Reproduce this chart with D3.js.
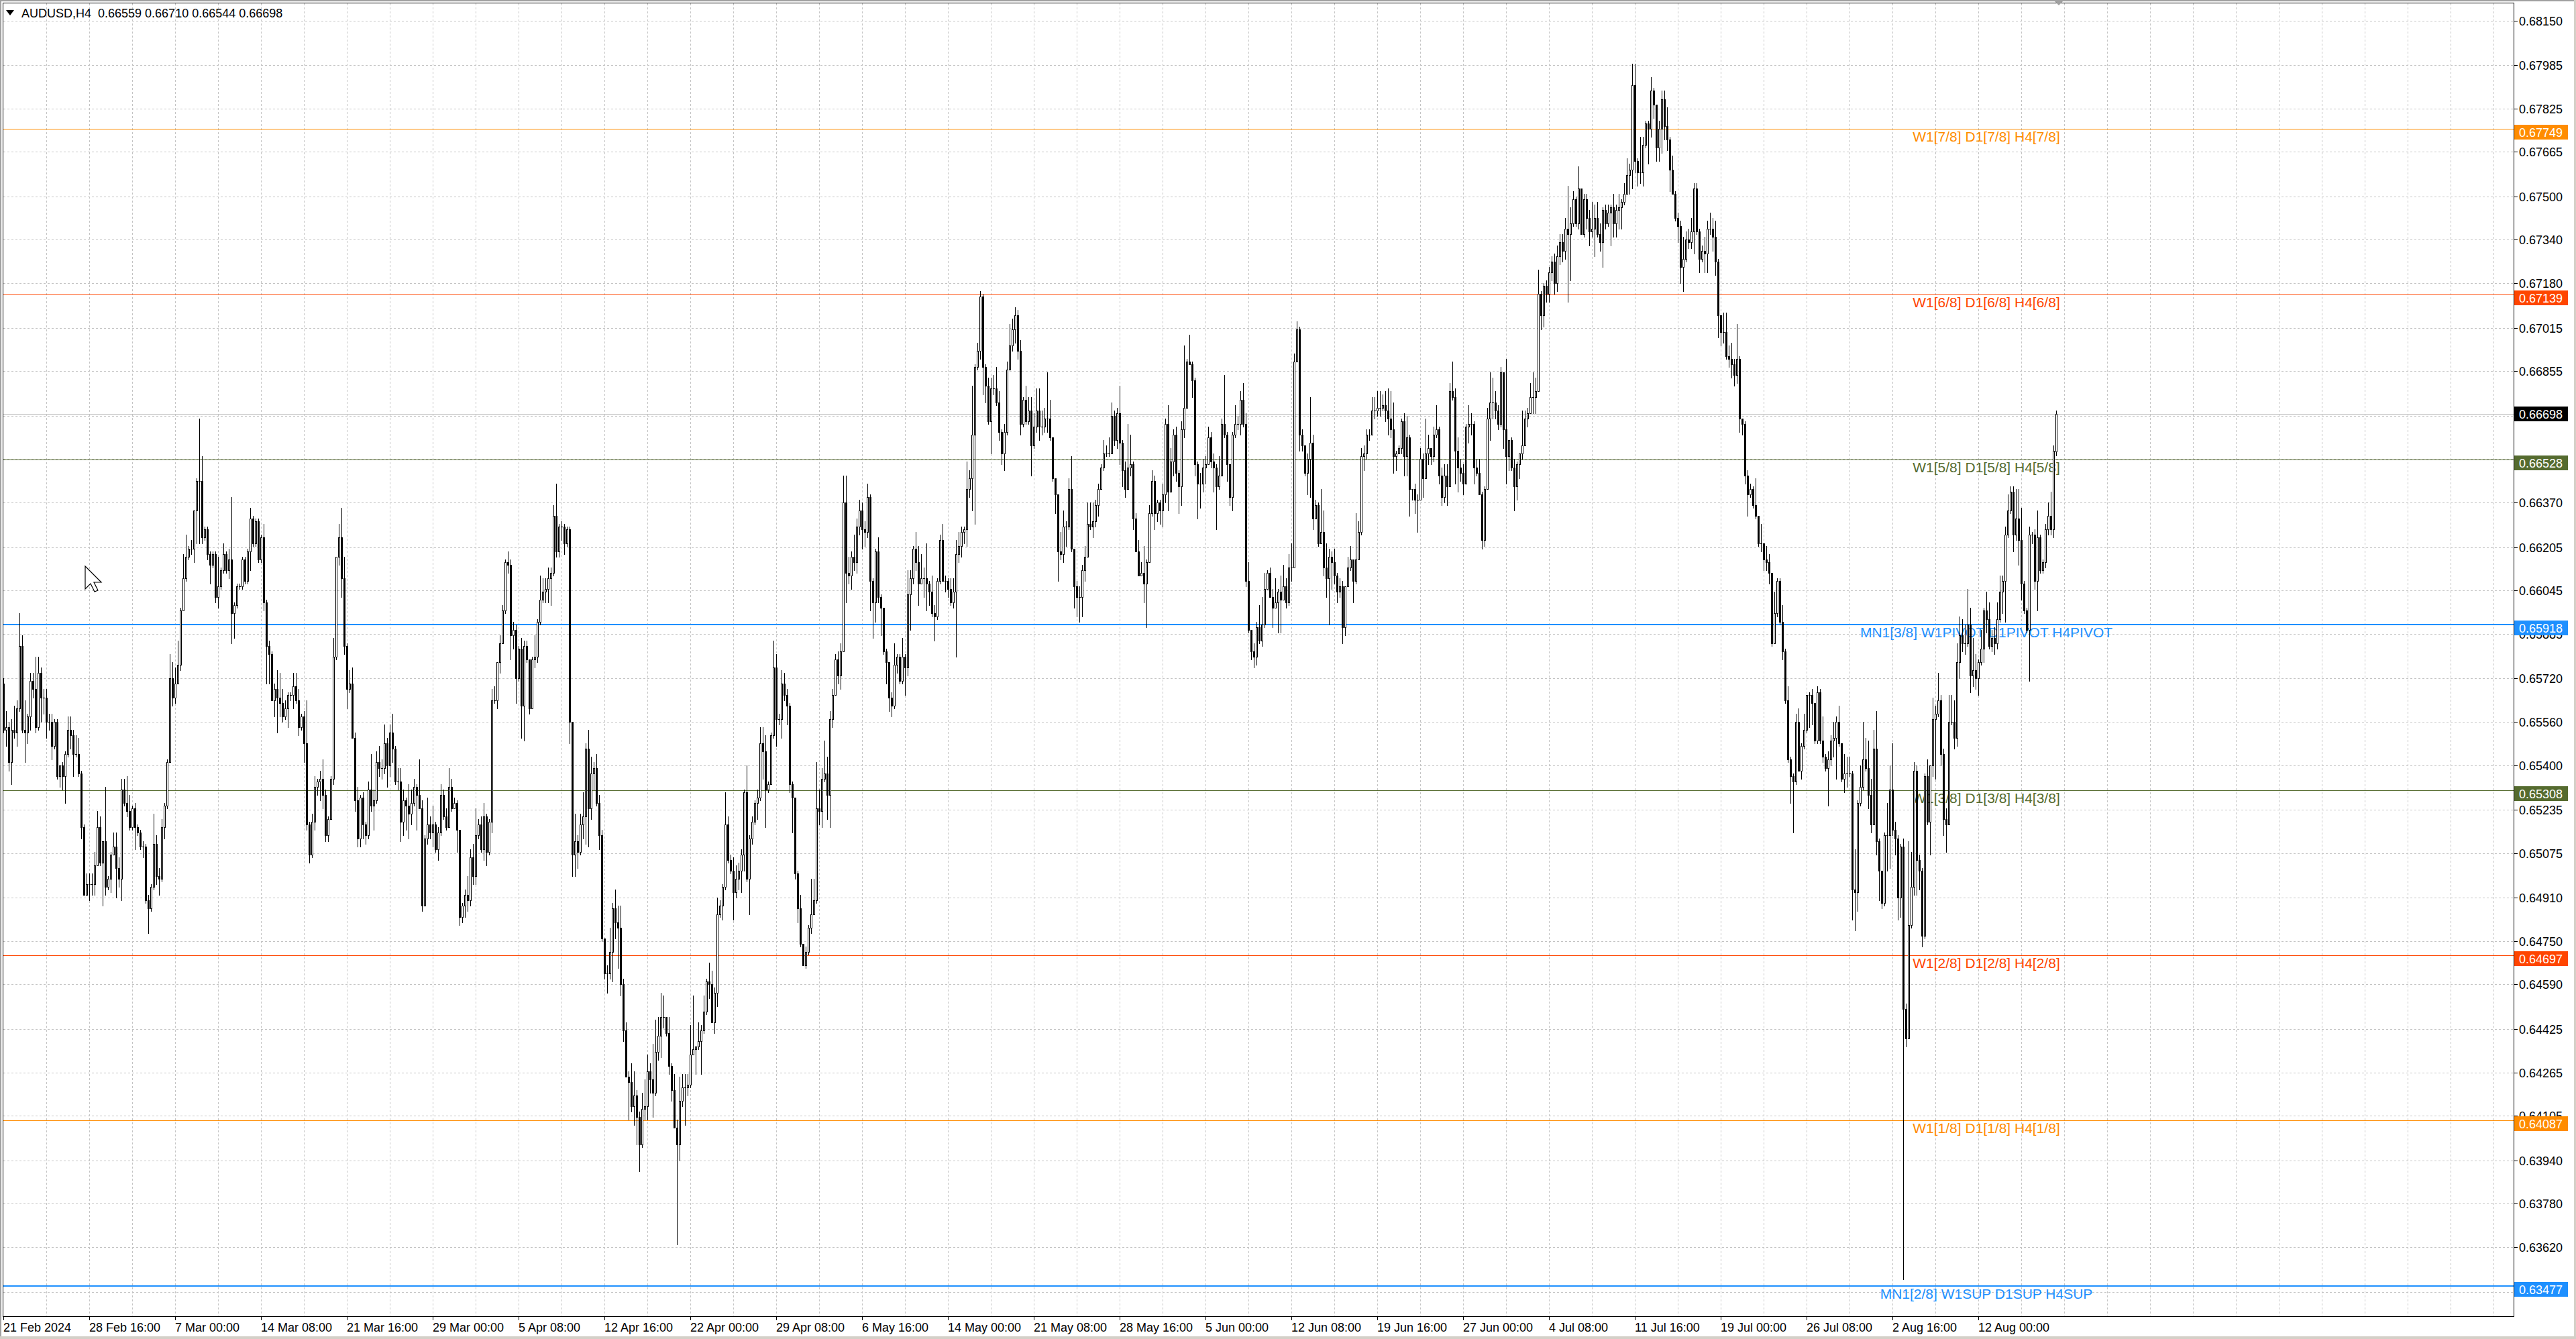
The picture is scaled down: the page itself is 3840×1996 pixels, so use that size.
<!DOCTYPE html>
<html><head><meta charset="utf-8">
<script src="https://cdn.jsdelivr.net/npm/d3@7"></script>
<style>
html,body{margin:0;padding:0;background:#fff;overflow:hidden}
svg{display:block}
text{font-family:"Liberation Sans",Arial,sans-serif}
</style></head><body>
<svg id="c" width="3840" height="1996"></svg>
<script>
// ---------------- DATA ----------------
const symbolTitle = "AUDUSD,H4";
const lastBarOHLC = [0.66559, 0.66710, 0.66544, 0.66698];
const bidPrice = 0.66698;
const dateLabels = ["21 Feb 2024","28 Feb 16:00","7 Mar 00:00","14 Mar 08:00","21 Mar 16:00","29 Mar 00:00",
  "5 Apr 08:00","12 Apr 16:00","22 Apr 00:00","29 Apr 08:00","6 May 16:00","14 May 00:00","21 May 08:00",
  "28 May 16:00","5 Jun 00:00","12 Jun 08:00","19 Jun 16:00","27 Jun 00:00","4 Jul 08:00","11 Jul 16:00",
  "19 Jul 00:00","26 Jul 08:00","2 Aug 16:00","12 Aug 00:00"];
// grid levels of the price scale; labels that the reference hides behind coloured boxes are not printed
const priceGridValues = [0.68150,0.67985,0.67825,0.67665,0.67500,0.67340,0.67180,0.67015,
  0.66855,0.66690,0.66530,0.66370,0.66205,0.66045,0.65885,0.65720,0.65560,0.65400,
  0.65235,0.65075,0.64910,0.64750,0.64590,0.64425,0.64265,0.64105,0.63940,0.63780,
  0.63620,0.63455];
const priceTickLabels = ["0.68150","0.67985","0.67825","0.67665","0.67500","0.67340","0.67180","0.67015",
  "0.66855","0.66370","0.66205","0.66045","0.65885","0.65720","0.65560","0.65400",
  "0.65235","0.65075","0.64910","0.64750","0.64590","0.64425","0.64265","0.64105","0.63940","0.63780",
  "0.63620"];
const levelPrices = [0.67749, 0.67139, 0.66528, 0.65918, 0.65308, 0.64697, 0.64087, 0.63477];
const levelNames = ["W1[7/8] D1[7/8] H4[7/8]","W1[6/8] D1[6/8] H4[6/8]","W1[5/8] D1[5/8] H4[5/8]",
  "MN1[3/8] W1PIVOT D1PIVOT H4PIVOT","W1[3/8] D1[3/8] H4[3/8]","W1[2/8] D1[2/8] H4[2/8]",
  "W1[1/8] D1[1/8] H4[1/8]","MN1[2/8] W1SUP D1SUP H4SUP"];
const levelKinds = ["8th1","8th2","8th3","pivot","8th3","8th2","8th1","pivot"];

// H4 candles, prices in units of 0.0001; open = previous close
const PIP = 0.0001;
const firstOpen = 6570;
const closes = [
6553,6554,6541,6553,6552,6561,6584,6553,6552,6558, 6571,6568,6554,6574,6565,6565,6556,6556,6547,6556,
6536,6540,6536,6544,6553,6551,6544,6544,6537,6517, 6492,6496,6496,6496,6503,6517,6504,6512,6495,6498,
6507,6510,6502,6498,6531,6526,6523,6517,6524,6517, 6515,6510,6510,6490,6487,6495,6511,6499,6498,6517,
6525,6541,6572,6565,6570,6577,6597,6609,6617,6620, 6620,6634,6645,6645,6624,6627,6618,6614,6618,6602,
6606,6612,6618,6612,6616,6596,6599,6606,6606,6616, 6608,6619,6631,6622,6630,6616,6624,6600,6584,6581,
6564,6568,6565,6563,6558,6561,6566,6566,6569,6564, 6554,6558,6548,6518,6507,6519,6532,6534,6535,6529,
6514,6520,6535,6580,6617,6624,6609,6584,6568,6570, 6550,6527,6513,6528,6518,6514,6531,6525,6527,6541,
6539,6539,6548,6540,6552,6546,6534,6534,6519,6527, 6525,6522,6526,6532,6529,6524,6488,6513,6518,6515,
6518,6509,6515,6529,6521,6517,6532,6524,6526,6516, 6484,6488,6492,6490,6506,6499,6514,6518,6509,6521,
6508,6519,6564,6564,6578,6585,6597,6615,6614,6588, 6590,6572,6583,6562,6584,6579,6561,6579,6580,6593,
6601,6604,6605,6609,6611,6632,6619,6628,6628,6622, 6627,6556,6507,6512,6508,6518,6521,6546,6524,6537,
6539,6526,6514,6476,6463,6463,6471,6487,6482,6480, 6459,6442,6425,6423,6414,6418,6410,6400,6413,6414,
6427,6424,6419,6434,6440,6447,6447,6441,6429,6420, 6406,6400,6416,6421,6421,6422,6433,6435,6436,6438,
6442,6449,6460,6459,6445,6456,6485,6488,6495,6518, 6505,6501,6493,6498,6501,6507,6530,6498,6513,6519,
6526,6528,6548,6545,6531,6533,6551,6576,6557,6557, 6570,6566,6562,6533,6528,6500,6487,6474,6466,6471,
6480,6485,6490,6524,6523,6535,6537,6529,6557,6566, 6579,6573,6582,6637,6611,6610,6617,6615,6628,6634,
6627,6626,6639,6608,6600,6619,6602,6598,6582,6578, 6565,6562,6577,6580,6571,6580,6576,6603,6609,6620,
6615,6607,6609,6609,6607,6604,6596,6595,6608,6623, 6608,6608,6605,6600,6604,6618,6621,6626,6627,6642,
6646,6662,6687,6693,6713,6687,6680,6667,6679,6679, 6674,6663,6655,6663,6686,6695,6701,6706,6693,6666,
6675,6667,6671,6658,6665,6671,6665,6665,6668,6668, 6661,6646,6640,6619,6618,6628,6628,6642,6620,6606,
6602,6602,6612,6617,6629,6628,6630,6636,6642,6650, 6655,6655,6655,6669,6660,6670,6659,6649,6642,6650,
6651,6631,6619,6610,6611,6607,6615,6633,6645,6633, 6637,6634,6640,6666,6641,6652,6662,6648,6643,6664,
6672,6689,6688,6682,6651,6644,6644,6650,6651,6661, 6652,6650,6643,6647,6666,6662,6651,6639,6662,6666,
6666,6675,6666,6608,6590,6582,6580,6591,6586,6592, 6605,6611,6602,6598,6600,6604,6601,6606,6600,6613,
6613,6689,6701,6662,6658,6648,6653,6659,6631,6636, 6622,6626,6613,6609,6617,6615,6610,6604,6606,6591,
6606,6613,6616,6608,6616,6626,6654,6655,6662,6662, 6671,6671,6672,6672,6673,6671,6668,6664,6654,6655,
6657,6667,6654,6661,6642,6642,6638,6638,6653,6646, 6655,6657,6654,6662,6664,6647,6639,6647,6643,6678,
6676,6656,6650,6648,6644,6665,6666,6666,6650,6648, 6640,6623,6642,6668,6674,6674,6671,6666,6685,6664,
6654,6660,6650,6643,6651,6655,6658,6668,6670,6676, 6676,6678,6714,6706,6717,6714,6722,6726,6718,6728,
6733,6730,6738,6736,6740,6749,6740,6753,6736,6749, 6742,6737,6738,6742,6736,6733,6745,6740,6744,6746,
6740,6745,6746,6748,6751,6758,6760,6791,6763,6759, 6759,6769,6777,6775,6789,6784,6768,6775,6786,6776,
6771,6760,6751,6742,6739,6724,6727,6734,6733,6737, 6753,6737,6727,6730,6729,6738,6738,6735,6726,6706,
6700,6700,6691,6690,6688,6684,6690,6668,6666,6647, 6640,6642,6636,6632,6622,6622,6616,6615,6611,6585,
6596,6608,6593,6582,6564,6542,6536,6534,6556,6538, 6547,6553,6566,6566,6563,6549,6567,6549,6543,6539,
6542,6549,6550,6556,6548,6535,6537,6537,6537,6494, 6493,6526,6532,6542,6539,6529,6518,6546,6512,6501,
6489,6514,6514,6531,6516,6513,6491,6510,6450,6439, 6481,6495,6538,6505,6501,6477,6536,6519,6540,6557,
6559,6564,6544,6520,6518,6556,6556,6550,6578,6588, 6585,6585,6592,6573,6575,6572,6578,6583,6597,6594,
6584,6587,6585,6594,6604,6608,6625,6634,6641,6625, 6631,6623,6607,6597,6590,6625,6625,6608,6624,6612,
6615,6627,6632,6627,6656,6670];
const upperWicks = [
2,6,2,4,9,3,12,4,11,1, 3,3,12,6,2,3,3,3,3,1, 1,0,1,1,5,5,2,7,6,1, 1,4,4,4,5,6,4,0,20,1,
1,5,5,4,4,4,10,6,1,2, 1,1,2,1,2,1,11,3,3,3, 1,1,9,6,6,9,1,9,8,1, 3,0,1,23,9,1,1,1,1,1,
11,1,4,1,4,23,1,1,1,1, 1,1,4,1,1,1,1,5,1,2, 1,2,7,9,5,3,1,1,5,5, 4,1,2,16,1,3,4,1,3,7,
2,1,1,7,0,5,11,8,1,5, 6,2,5,1,2,1,3,13,4,4, 6,3,7,2,3,7,1,5,5,4, 1,8,5,3,1,13,3,1,10,3,
7,1,2,4,2,3,7,3,2,1, 0,1,2,7,3,5,10,2,3,5, 1,1,4,5,0,3,2,1,4,2, 3,2,1,4,2,2,0,1,8,1,
9,5,4,4,2,4,12,1,2,1, 1,1,0,10,2,4,9,2,7,6, 2,5,3,2,0,3,9,2,7,6, 8,2,3,2,7,9,2,2,6,10,
6,3,13,12,7,9,8,0,6,1, 6,3,9,5,5,4,11,20,0,7, 2,6,1,7,5,2,6,2,1,12, 3,2,5,5,3,2,1,10,1,2,
1,3,6,6,6,1,1,10,5,2, 5,4,2,1,1,0,1,5,0,2, 1,13,8,17,7,4,12,6,3,2, 2,3,3,10,10,6,2,8,3,4,
3,3,5,1,1,1,5,1,0,1, 0,2,8,1,1,7,1,9,3,1, 6,6,9,4,13,1,6,3,1,2, 6,2,1,4,5,5,5,2,1,10,
3,18,1,3,2,1,1,3,4,5, 8,4,1,3,3,8,4,3,2,4, 1,5,5,5,5,8,8,6,4,17, 7,0,0,0,7,6,2,4,12,0,
2,4,2,4,8,8,7,2,2,1, 5,3,6,5,2,2,10,1,3,16, 11,1,2,4,4,10,1,3,4,2, 1,1,4,2,7,5,2,3,1,3,
23,1,10,1,1,1,4,3,3,4, 2,3,1,7,2,18,1,0,1,7, 3,3,6,4,7,0,3,2,8,10, 6,1,2,3,9,1,6,8,3,5,
9,3,3,1,2,0,2,17,3,2, 1,16,8,9,3,2,5,1,3,2, 0,4,5,0,17,4,3,3,2,2, 5,5,6,6,4,5,8,10,10,1,
1,1,3,8,1,0,2,2,4,2, 13,5,0,3,9,1,3,4,4,3, 11,3,5,3,3,1,7,4,1,3, 5,1,1,4,11,9,4,2,2,0,
26,0,1,3,1,0,13,3,2,5, 9,5,9,1,1,2,2,2,3,4, 3,3,4,16,6,3,1,8,0,2, 2,3,10,5,6,4,1,2,3,1,
5,2,5,1,4,6,2,8,8,1, 13,3,1,1,5,1,0,3,3,3, 7,1,5,1,2,2,8,3,4,5, 2,2,1,2,5,3,6,4,6,1,
0,7,7,4,6,2,13,1,0,1, 2,2,1,10,0,7,0,5,3,0, 8,1,1,6,1,5,1,1,3,5, 1,6,0,1,2,0,2,1,9,1,
3,2,6,2,6,0,7,6,6,1, 15,1,8,14,8,10,6,7,14,1, 0,1,12,9,17,3,1,1,3,2, 31,13,3,2,2,1,1,6,0,8,
3,10,2,2,4,10,10,8,7,7, 6,7,13,6,12,6,1,7,1,7, 6,3,4,6,6,2,3,6,2,2, 11,11,12,1,1,3,1,2,10,1,
1,2,5,9,2,1];
const lowerWicks = [
1,6,3,8,2,5,1,1,11,4, 5,3,2,1,9,6,6,3,5,1, 1,4,5,10,1,5,8,1,1,4, 0,0,6,4,4,0,1,16,3,1,
5,0,11,3,8,1,2,1,1,8, 1,1,4,1,9,1,1,3,6,1, 4,1,0,3,2,0,2,0,1,1, 2,5,12,23,2,1,2,7,1,2,
4,1,1,1,3,11,9,1,1,1, 1,1,7,1,1,1,1,3,14,11, 0,6,13,5,2,1,7,2,5,1, 3,1,7,2,3,1,3,3,7,5,
2,2,0,2,1,3,7,3,7,1, 0,4,3,3,5,3,1,2,9,1, 3,4,2,8,4,5,1,3,7,5, 9,9,4,1,13,0,2,0,2,2,
5,1,4,1,1,1,0,1,0,8, 3,2,4,4,2,3,3,1,1,4, 5,1,4,1,3,4,0,1,3,9, 5,9,1,12,13,1,2,0,3,2,
1,1,4,5,10,1,2,2,5,4, 1,8,8,8,6,1,5,10,14,4, 6,1,5,1,2,7,2,11,6,15, 4,4,0,14,2,7,10,10,1,4,
5,5,9,1,3,8,4,1,3,4, 0,37,6,2,14,3,1,0,9,1, 12,1,1,5,0,4,5,1,5,1, 1,1,10,2,4,8,6,1,13,2,
1,6,1,10,14,1,0,1,10,2, 7,2,7,3,13,2,5,1,0,1, 1,2,0,1,5,6,1,9,12,3, 0,3,5,0,11,3,5,3,4,3,
7,5,2,11,13,7,2,10,1,8, 5,4,1,3,1,1,10,3,13,2, 3,8,0,7,10,5,1,9,1,1, 0,4,3,1,2,24,3,4,4,6,
3,12,33,1,3,10,6,1,12,2, 1,3,4,6,1,0,2,5,3,4, 1,1,1,11,1,2,5,3,2,5, 1,1,7,11,2,3,7,1,1,8,
7,9,7,4,0,1,4,2,4,0, 1,1,1,0,2,3,8,6,3,0, 3,4,0,0,0,7,16,0,1,6, 3,5,6,3,7,0,5,3,10,7,
3,0,0,6,4,13,9,3,6,0, 2,9,16,1,0,1,6,3,5,1, 2,4,1,2,1,3,4,3,1,2, 1,0,0,7,0,11,12,0,2,1,
5,0,0,6,2,1,8,14,4,0, 1,0,3,7,17,10,3,4,2,6, 3,0,1,8,1,0,1,5,2,2, 0,3,2,3,1,4,6,3,6,5,
0,2,7,7,10,4,5,12,0,7, 0,4,3,2,1,3,3,2,7,0, 1,12,9,3,4,0,6,4,6,1, 0,3,2,0,8,6,3,2,1,7,
10,5,1,9,5,5,2,0,3,0, 6,6,0,5,4,3,3,3,4,3, 3,4,3,25,17,1,1,2,0,1, 4,5,2,10,1,3,9,2,1,12,
5,5,7,8,1,0,7,7,4,5, 4,5,1,13,3,5,5,5,9,5, 4,8,0,1,6,6,9,1,2,2, 8,1,5,1,7,7,2,5,5,8,
5,4,1,3,5,4,3,5,4,3, 8,1,1,1,1,3,4,3,4,1, 0,1,1,3,1,1,10,19,1,0, 3,1,1,12,8,1,1,1,2,1,
14,2,6,15,1,1,5,5,1,11, 14,7,1,1,1,5,3,0,5,11, 2,1,13,12,2,6,8,7,100,3, 0,1,3,13,7,4,1,1,12,4,
22,1,4,6,10,0,1,4,3,6, 3,4,1,6,4,4,6,1,5,5, 1,2,4,2,1,8,15,1,1,6, 2,9,6,1,1,19,3,3,11,1,
1,2,2,2,3,1];

// ---------------- LAYOUT / STYLE ----------------
const W = 3840, H = 1996;
const plot = {left: 4.5, right: 3747.5, top: 4.5, bottom: 1962.5};
const BARS_PER_DATE_LABEL = 32, BARS_PER_GRID = 16;
const levelStyle = {
  "8th1": {color: "#ff8c00", width: 1},
  "8th2": {color: "#ff4500", width: 1},
  "8th3": {color: "#556b2f", width: 1},
  "pivot": {color: "#1e90ff", width: 2}
};
const FONT = '"Liberation Sans", Arial, sans-serif';

// ---------------- BUILD CANDLES ----------------
const n = closes.length;
const candles = closes.map((c, i) => {
  const o = i === 0 ? firstOpen : closes[i - 1];
  const hi = Math.max(o, c) + (upperWicks[i] || 0);
  const lo = Math.min(o, c) - (lowerWicks[i] || 0);
  return {i, o: o * PIP, c: c * PIP, h: hi * PIP, l: lo * PIP};
});
candles[n - 1] = {i: n - 1, o: lastBarOHLC[0], h: lastBarOHLC[1], l: lastBarOHLC[2], c: lastBarOHLC[3]};

const x = d3.scaleLinear().domain([0, n - 1]).range([5, 5 + 4 * (n - 1)]);
const y = d3.scaleLinear().domain([0.6362, 0.6815]).range([1859, 30.5]);
const crisp = v => Math.round(v) + 0.5;

const svg = d3.select("#c").attr("width", W).attr("height", H);
svg.append("rect").attr("width", W).attr("height", H).attr("fill", "#ffffff");

// outer window frame
svg.append("rect").attr("x", 0).attr("y", 0).attr("width", W).attr("height", 2).attr("fill", "#a0a0a0");
svg.append("rect").attr("x", 0).attr("y", 0).attr("width", 2).attr("height", H).attr("fill", "#a0a0a0");
svg.append("rect").attr("x", 3837).attr("y", 0).attr("width", 3).attr("height", H).attr("fill", "#d4d0c8");
svg.append("rect").attr("x", 0).attr("y", 1992).attr("width", W).attr("height", 4).attr("fill", "#d4d0c8");

const defs = svg.append("defs");
defs.append("clipPath").attr("id", "plotClip").append("rect")
  .attr("x", plot.left).attr("y", plot.top)
  .attr("width", plot.right - plot.left).attr("height", plot.bottom - plot.top);

const g = svg.append("g").attr("clip-path", "url(#plotClip)").attr("shape-rendering", "crispEdges");

// grid
g.append("g").selectAll("line").data(priceGridValues).join("line")
  .attr("x1", plot.left).attr("x2", plot.right)
  .attr("y1", d => crisp(y(d))).attr("y2", d => crisp(y(d)))
  .attr("stroke", "#c4c4c4").attr("stroke-width", 1).attr("stroke-dasharray", "3,3");
const gridBars = d3.range(BARS_PER_GRID, 1000, BARS_PER_GRID).filter(b => x(b) < plot.right - 2);
g.append("g").selectAll("line").data(gridBars).join("line")
  .attr("x1", d => Math.round(x(d)) + 0.5).attr("x2", d => Math.round(x(d)) + 0.5)
  .attr("y1", plot.top).attr("y2", plot.bottom)
  .attr("stroke", "#c4c4c4").attr("stroke-width", 1).attr("stroke-dasharray", "3,3");

// level lines
const levels = levelPrices.map((p, k) => ({p, name: levelNames[k], kind: levelKinds[k]}));
g.append("g").selectAll("line").data(levels).join("line")
  .attr("x1", plot.left).attr("x2", plot.right)
  .attr("y1", d => levelStyle[d.kind].width === 2 ? Math.round(y(d.p)) : crisp(y(d.p)))
  .attr("y2", d => levelStyle[d.kind].width === 2 ? Math.round(y(d.p)) : crisp(y(d.p)))
  .attr("stroke", d => levelStyle[d.kind].color)
  .attr("stroke-width", d => levelStyle[d.kind].width);

// bid line
g.append("line").attr("x1", plot.left).attr("x2", plot.right)
  .attr("y1", crisp(y(bidPrice))).attr("y2", crisp(y(bidPrice)))
  .attr("stroke", "#c0c0c0").attr("stroke-width", 1);

// level texts (behind candles)
const labelCenterBar = 739;
svg.append("g").selectAll("text").data(levels).join("text")
  .attr("x", x(labelCenterBar)).attr("y", d => Math.round(y(d.p)) + 19)
  .attr("text-anchor", "middle")
  .attr("font-family", FONT).attr("font-size", 21)
  .attr("fill", d => levelStyle[d.kind].color)
  .text(d => d.name);

// candles
const cg = svg.append("g").attr("clip-path", "url(#plotClip)").attr("shape-rendering", "crispEdges");
const cs = cg.selectAll("g").data(candles).join("g");
cs.append("line")
  .attr("x1", d => Math.round(x(d.i)) + 0.5).attr("x2", d => Math.round(x(d.i)) + 0.5)
  .attr("y1", d => Math.round(y(d.h))).attr("y2", d => Math.round(y(d.l)) + 1)
  .attr("stroke", "#000").attr("stroke-width", 1);
cs.append("rect")
  .each(function(d) {
    const cx = Math.round(x(d.i));
    const yt = Math.round(y(Math.max(d.o, d.c)));
    const yb = Math.round(y(Math.min(d.o, d.c)));
    const r = d3.select(this);
    if (d.c > d.o && yb - yt >= 2) {
      r.attr("x", cx - 0.5).attr("y", yt + 0.5).attr("width", 2).attr("height", yb - yt)
        .attr("fill", "#fff").attr("stroke", "#000").attr("stroke-width", 1);
    } else {
      r.attr("x", cx - 1).attr("y", yt).attr("width", 3).attr("height", Math.max(1, yb - yt + 1))
        .attr("fill", "#000");
    }
  });

// plot frame
svg.append("rect").attr("x", plot.left).attr("y", plot.top)
  .attr("width", plot.right - plot.left).attr("height", plot.bottom - plot.top)
  .attr("fill", "none").attr("stroke", "#000").attr("stroke-width", 1).attr("shape-rendering", "crispEdges");

// price axis
const ax = svg.append("g").attr("shape-rendering", "crispEdges");
ax.selectAll("line").data(priceGridValues).join("line")
  .attr("x1", plot.right).attr("x2", plot.right + 5)
  .attr("y1", d => crisp(y(d))).attr("y2", d => crisp(y(d)))
  .attr("stroke", "#000");
svg.append("g").selectAll("text").data(priceTickLabels).join("text")
  .attr("x", 3755).attr("y", d => Math.round(y(+d)) + 6.5)
  .attr("font-family", FONT).attr("font-size", 18).attr("fill", "#000")
  .text(d => d);

// price label boxes (level boxes sit slightly below their line, bid box is centred)
const boxes = levels.map(d => ({p: d.p, color: levelStyle[d.kind].color, dy: 5}))
  .concat([{p: bidPrice, color: "#000000", dy: 0}]);
const bg = svg.append("g");
bg.selectAll("rect").data(boxes).join("rect")
  .attr("x", plot.right + 0.5).attr("y", d => Math.round(y(d.p)) + d.dy - 11)
  .attr("width", 80).attr("height", 22).attr("fill", d => d.color)
  .attr("shape-rendering", "crispEdges");
bg.selectAll("text").data(boxes).join("text")
  .attr("x", 3755).attr("y", d => Math.round(y(d.p)) + d.dy + 7)
  .attr("font-family", FONT).attr("font-size", 18).attr("fill", "#fff")
  .text(d => d.p.toFixed(5));

// date axis
const dateTicks = dateLabels.map((t, k) => ({t, bar: k * BARS_PER_DATE_LABEL}));
svg.append("g").attr("shape-rendering", "crispEdges").selectAll("line").data(dateTicks).join("line")
  .attr("x1", d => Math.round(x(d.bar)) + 0.5).attr("x2", d => Math.round(x(d.bar)) + 0.5)
  .attr("y1", plot.bottom).attr("y2", plot.bottom + 5).attr("stroke", "#000");
svg.append("g").selectAll("text").data(dateTicks).join("text")
  .attr("x", d => Math.round(x(d.bar))).attr("y", 1985)
  .attr("font-family", FONT).attr("font-size", 18).attr("fill", "#000")
  .text(d => d.t);

// title
svg.append("path").attr("d", "M9,15 L21,15 L15,23 Z").attr("fill", "#000");
svg.append("text").attr("x", 32).attr("y", 26)
  .attr("font-family", FONT).attr("font-size", 18).attr("fill", "#000")
  .attr("xml:space", "preserve")
  .text(symbolTitle + "  " + lastBarOHLC.map(v => v.toFixed(5)).join(" "));

// chart shift marker at top
const shiftX = x(n - 1) + 4;
svg.append("path").attr("d", `M${shiftX - 6},2 L${shiftX + 6},2 L${shiftX},8 Z`).attr("fill", "#a0a0a0");

// mouse cursor
const cur = [[0,0],[0,17],[4,13],[7,19],[9.5,18],[6.5,12],[12,12]];
svg.append("path")
  .attr("d", "M" + cur.map(p => [127 + p[0] * 2, 844 + p[1] * 2].join(",")).join(" L") + " Z")
  .attr("fill", "#fff").attr("stroke", "#000").attr("stroke-width", 1.2);
</script>
</body></html>
